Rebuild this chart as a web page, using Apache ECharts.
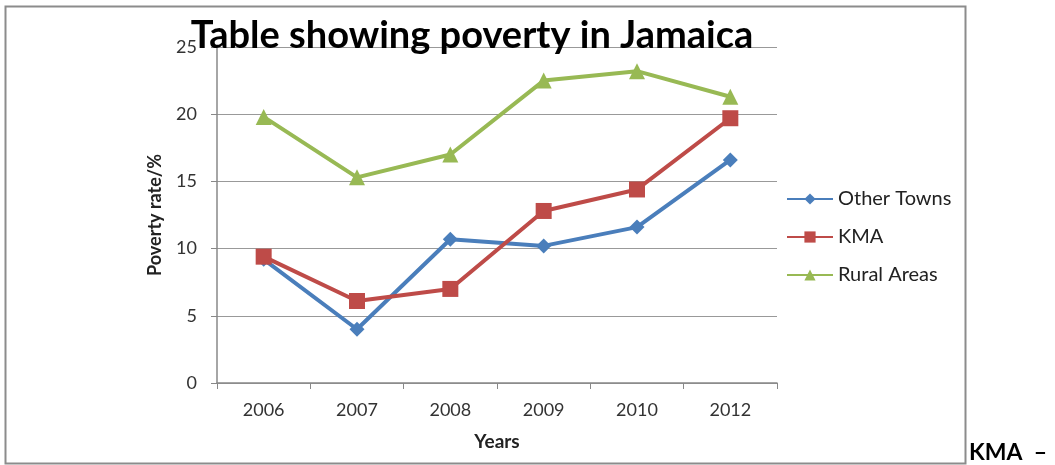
<!DOCTYPE html>
<html><head><meta charset="utf-8">
<script src="https://cdn.jsdelivr.net/npm/echarts@6/dist/echarts.min.js"></script>
<style>html,body{margin:0;padding:0;background:#fff}#c{width:1055px;height:465px}</style>
</head><body><div id="c"></div>
<script>
var years = ['2006','2007','2008','2009','2010','2012'];
var otherTowns = [9.2, 4.0, 10.7, 10.2, 11.6, 16.6];
var kma = [9.4, 6.1, 7.0, 12.8, 14.4, 19.7];
var rural = [19.8, 15.3, 17.0, 22.5, 23.2, 21.3];
var yTicks = [0, 5, 10, 15, 20, 25];

var chart = echarts.init(document.getElementById('c'), null, {renderer:'canvas'});
var font = 'Lato, "Open Sans", sans-serif';
function mk(name, data, color, sym, size){
  return {name:name, type:'line', data:data, symbol:sym, symbolSize:size,
    lineStyle:{color:color, width:4}, itemStyle:{color:color},
    emphasis:{disabled:true}, animation:false};
}
chart.setOption({
  animation:false,
  graphic:[
    {type:'rect', shape:{x:5.5,y:6.5,width:960,height:457}, style:{fill:'none', stroke:'#8c8c8c', lineWidth:2}, z:-1},
    {type:'text', left:969, top:441, style:{text:'KMA  –', font:'bold 23px '+font, fill:'#000'}}
  ],
  title:{text:'Table showing poverty in Jamaica', left:467, top:12, textAlign:'center',
    textStyle:{fontFamily:font, fontWeight:'bold', fontSize:38, color:'#000'}},
  grid:{left:217, right:1055-777, top:47, bottom:465-383, containLabel:false},
  legend:{orient:'vertical', left:781, top:184, itemGap:18, itemWidth:46, itemHeight:14,
    textStyle:{fontFamily:font, fontSize:20, color:'#222'},
    data:['Other Towns','KMA','Rural Areas']},
  xAxis:{type:'category', data:years, boundaryGap:true,
    name:'Years', nameLocation:'middle', nameGap:49,
    nameTextStyle:{fontFamily:font, fontWeight:'bold', fontSize:19, color:'#222'},
    axisLine:{lineStyle:{color:'#888', width:1.5}},
    axisTick:{show:true, length:6, lineStyle:{color:'#888'}, alignWithLabel:false},
    axisLabel:{fontFamily:font, fontSize:18, color:'#333', margin:18}},
  yAxis:{type:'value', min:0, max:25, interval:5,
    name:'Poverty rate/%', nameLocation:'middle', nameGap:53, nameRotate:90,
    nameTextStyle:{fontFamily:font, fontWeight:'bold', fontSize:18, color:'#222'},
    axisLine:{show:true, lineStyle:{color:'#888', width:1.5}},
    axisTick:{show:true, length:6, lineStyle:{color:'#888'}},
    splitLine:{lineStyle:{color:'#999', width:1.2}},
    axisLabel:{fontFamily:font, fontSize:18, color:'#333', margin:20,
      formatter:function(v){return yTicks.indexOf(v)>=0? String(v):'';}}},
  series:[
    mk('Other Towns', otherTowns, '#4a7ebb', 'diamond', 15),
    mk('KMA', kma, '#be4b48', 'rect', 16),
    mk('Rural Areas', rural, '#98b954', 'triangle', 16)
  ]
});
</script></body></html>
